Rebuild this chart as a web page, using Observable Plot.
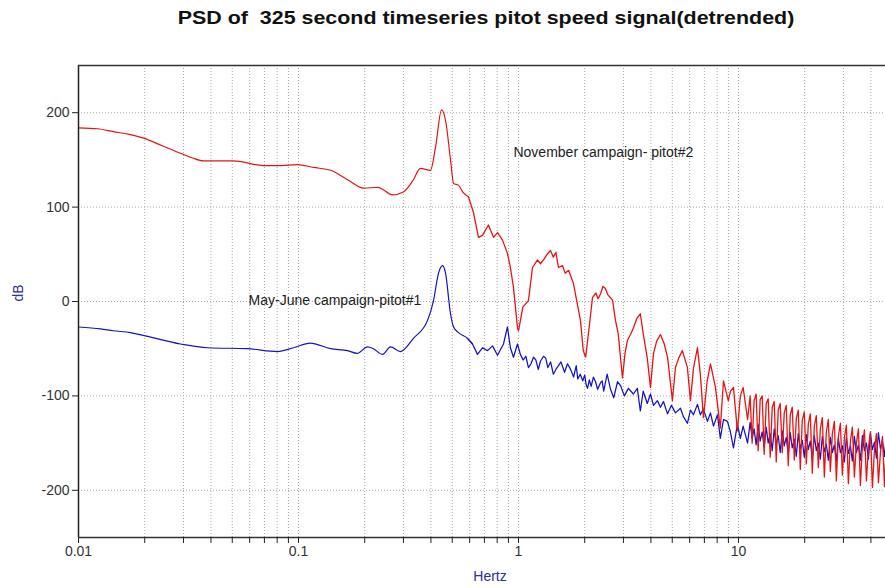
<!DOCTYPE html>
<html><head><meta charset="utf-8">
<script src="https://cdn.jsdelivr.net/npm/d3@7"></script>
<script src="https://cdn.jsdelivr.net/npm/@observablehq/plot@0.6"></script>
<style>
body{margin:0;background:#fff;font-family:"Liberation Sans",Arial,sans-serif;}
#wrap{position:relative;width:885px;height:588px;overflow:hidden;}
#title{position:absolute;top:8px;left:0;width:972px;text-align:center;font-weight:bold;font-size:18px;color:#111;white-space:pre;z-index:2;transform:scaleX(1.19);transform-origin:486px 0;}
#chart{position:absolute;top:0;left:0;}
</style></head>
<body><div id="wrap"><div id="title">PSD of  325 second timeseries pitot speed signal(detrended)</div><div id="chart"></div></div>
<script>
// November campaign (pitot #2): [Hz, dB]
const redSeries = [
[0.01,184],[0.0122,183],[0.0144,180],[0.017,177],[0.0198,173],[0.024,165],[0.0291,157],[0.033,152],[0.037,149],[0.0506,149],[0.0693,144],[0.0828,144],[0.099,145],[0.117,142],[0.14,139],[0.167,129],[0.198,120],[0.229,121],[0.268,113],[0.300,116],[0.333,129],[0.358,141],[0.398,139],[0.42,164],[0.447,203],[0.466,192],[0.491,150],[0.507,125],[0.534,123],[0.562,115],[0.592,111],[0.625,94],[0.658,68],[0.686,70],[0.730,81],[0.770,68],[0.803,73],[0.846,65],[0.891,51],[0.919,36],[0.949,15],[0.99,-28],[1.0,-31],[1.047,-6],[1.11,1],[1.158,36],[1.22,44],[1.26,40],[1.299,44],[1.35,50],[1.398,54],[1.44,47],[1.48,52],[1.52,36],[1.585,38],[1.63,30],[1.69,33],[1.778,19],[1.913,-20],[1.97,-52],[2.02,-59],[2.08,-34],[2.17,4],[2.25,9],[2.30,3],[2.36,8],[2.42,16],[2.48,14],[2.55,7],[2.62,4],[2.68,1],[2.76,-20],[2.84,-34],[2.97,-81],[3.05,-55],[3.13,-41],[3.23,-35],[3.33,-28],[3.45,-18],[3.58,-13],[3.69,-34],[3.85,-60],[3.98,-91],[4.11,-55],[4.25,-42],[4.42,-35],[4.6,-45],[4.76,-59],[5.01,-105],[5.17,-70],[5.35,-60],[5.56,-52],[5.86,-70],[6.05,-105],[6.25,-70],[6.51,-49],[6.71,-77],[6.93,-123],[7.2,-85],[7.46,-66],[7.86,-91],[8.27,-134],[8.55,-84],[8.99,-105],[9.2,-95],[9.49,-91],[9.89,-137],[10.2,-100],[10.5,-91],[11.0,-125],
[11.30,-100],[11.54,-150],[11.78,-105],[12.03,-98],[12.29,-158],[12.55,-104],[12.82,-100],[13.09,-162],[13.37,-108],[13.65,-103],[13.94,-165],[14.24,-112],[14.54,-106],[14.85,-170],[15.16,-115],[15.48,-108],[15.81,-160],[16.15,-118],[16.49,-110],[16.84,-174],[17.20,-120],[17.56,-112],[17.94,-168],[18.32,-124],[18.70,-115],[19.10,-178],[19.50,-126],[19.92,-117],[20.34,-172],[20.77,-130],[21.21,-119],[21.66,-182],[22.12,-132],[22.59,-121],[23.07,-176],[23.56,-135],[24.06,-123],[24.57,-186],[25.09,-138],[25.62,-125],[26.16,-180],[26.72,-140],[27.28,-127],[27.86,-190],[28.45,-143],[29.06,-129],[29.67,-184],[30.30,-145],[30.94,-131],[31.60,-193],[32.27,-148],[32.95,-133],[33.65,-186],[34.37,-150],[35.09,-135],[35.84,-195],[36.60,-152],[37.37,-136],[38.17,-190],[38.97,-155],[39.80,-138],[40.64,-197],[41.51,-157],[42.39,-140],[43.28,-192],[44.20,-160],[45.14,-143],[46.10,-196],[47.07,-146]
];
// May-June campaign (pitot #1): [Hz, dB]
const blueSeries = [
[0.01,-27],[0.0126,-29],[0.0144,-31],[0.0172,-33],[0.0206,-37],[0.0291,-45],[0.0386,-49],[0.0586,-50],[0.0803,-53],[0.0949,-49],[0.113,-44],[0.14,-50],[0.167,-52],[0.185,-55],[0.206,-48],[0.219,-50],[0.241,-56],[0.262,-48],[0.291,-53],[0.333,-39],[0.386,-20],[0.411,1],[0.433,30],[0.452,38],[0.466,30],[0.491,-13],[0.507,-27],[0.534,-33],[0.586,-39],[0.618,-45],[0.651,-56],[0.686,-49],[0.723,-52],[0.762,-47],[0.803,-57],[0.855,-45],[0.891,-27],[0.919,-49],[0.949,-59],[0.99,-45],[1.02,-56],[1.05,-62],[1.08,-58],[1.11,-70],[1.14,-66],[1.17,-59],[1.20,-62],[1.23,-72],[1.26,-63],[1.30,-58],[1.33,-60],[1.36,-70],[1.40,-64],[1.44,-77],[1.48,-72],[1.52,-68],[1.56,-64],[1.62,-75],[1.67,-66],[1.70,-69],[1.74,-74],[1.78,-80],[1.83,-68],[1.86,-82],[1.91,-77],[1.96,-84],[2.0,-78],[2.03,-88],[2.06,-92],[2.10,-83],[2.14,-90],[2.19,-80],[2.24,-85],[2.29,-93],[2.36,-86],[2.40,-84],[2.44,-95],[2.53,-77],[2.62,-93],[2.71,-102],[2.82,-85],[2.91,-89],[3.03,-100],[3.16,-92],[3.33,-98],[3.47,-92],[3.58,-116],[3.69,-95],[3.85,-108],[3.98,-98],[4.11,-110],[4.28,-105],[4.42,-112],[4.56,-106],[4.76,-119],[4.96,-110],[5.17,-118],[5.45,-113],[5.62,-122],[5.86,-129],[6.05,-115],[6.24,-120],[6.51,-109],[6.71,-120],[6.93,-114],[7.23,-127],[7.46,-118],[7.70,-132],[8.03,-120],[8.27,-145],[8.55,-125],[8.91,-127],[9.19,-138],[9.49,-155],[9.89,-130],[10.2,-145],[10.5,-132],[11.0,-150],
[11.30,-128],[11.54,-145],[11.78,-135],[12.03,-152],[12.29,-130],[12.55,-148],[12.82,-138],[13.09,-155],[13.37,-133],[13.65,-150],[13.94,-140],[14.24,-158],[14.54,-135],[14.85,-152],[15.16,-142],[15.48,-160],[15.81,-137],[16.15,-153],[16.49,-144],[16.84,-162],[17.20,-139],[17.56,-155],[17.94,-146],[18.32,-164],[18.70,-140],[19.10,-156],[19.50,-147],[19.92,-165],[20.34,-141],[20.77,-157],[21.21,-148],[21.66,-166],[22.12,-142],[22.59,-158],[23.07,-150],[23.56,-167],[24.06,-143],[24.57,-159],[25.09,-151],[25.62,-168],[26.16,-144],[26.72,-160],[27.28,-152],[27.86,-169],[28.45,-145],[29.06,-160],[29.67,-153],[30.30,-170],[30.94,-144],[31.60,-161],[32.27,-153],[32.95,-169],[33.65,-143],[34.37,-160],[35.09,-152],[35.84,-168],[36.60,-142],[37.37,-158],[38.17,-150],[38.97,-167],[39.80,-140],[40.64,-157],[41.51,-149],[42.39,-166],[43.28,-139],[44.20,-156],[45.14,-148],[46.10,-164],[47.07,-141]
];
const xTicks = [0.01,0.02,0.03,0.04,0.05,0.06,0.07,0.08,0.09,0.1,0.2,0.3,0.4,0.5,0.6,0.7,0.8,0.9,1,2,3,4,5,6,7,8,9,10,20,30,40];
const xLabels = [0.01,0.1,1,10];
const yTicks = [-200,-100,0,100,200];
const notes = [
  {hz: 0.949, db: 158, label: "November campaign- pitot#2"},
  {hz: 0.0593, db: 1, label: "May-June campaign-pitot#1"}
];
const axisBlue = "#2e2e9e";
const smoothBelow = 0.6; // smooth low-frequency part, jagged (linear) above

const px = d => d[0], py = d => d[1];
const chart = Plot.plot({
  width: 885, height: 588,
  marginLeft: 78, marginRight: 0, marginTop: 65, marginBottom: 51,
  style: {fontFamily: "Liberation Sans, Arial, sans-serif", fontSize: "14px", color: "#333", background: "#fff"},
  x: {type: "log", domain: [0.01, 46.6]},
  y: {domain: [-250, 250]},
  marks: [
    Plot.gridX(xTicks.filter(d => d > 0.01), {stroke: "#a8a8a8", strokeOpacity: 1, strokeDasharray: "1,2"}),
    Plot.gridY(yTicks, {stroke: "#a8a8a8", strokeOpacity: 1, strokeDasharray: "1,2"}),
    Plot.line(blueSeries.filter(d => d[0] <= 0.62), {x: px, y: py, stroke: "#1414c0", strokeWidth: 1.2, curve: "monotone-x", clip: true}),
    Plot.line(blueSeries.filter(d => d[0] >= 0.58), {x: px, y: py, stroke: "#1414c0", strokeWidth: 1.25, clip: true}),
    Plot.line(redSeries.filter(d => d[0] <= 0.6), {x: px, y: py, stroke: "#e41414", strokeWidth: 1.2, curve: "monotone-x", clip: true}),
    Plot.line(redSeries.filter(d => d[0] >= 0.59), {x: px, y: py, stroke: "#e81414", strokeWidth: 1.3, clip: true}),
    Plot.text(notes, {x: "hz", y: "db", text: "label", textAnchor: "start", fill: "#222", fontSize: 14, ariaLabel: "notes"}),
    Plot.ruleX([0.01], {stroke: "#222", strokeWidth: 1.5}),
    Plot.ruleY([-250, 250], {stroke: "#333", strokeWidth: 1.5}),
    Plot.axisX({ticks: xTicks, tickFormat: d => xLabels.includes(d) ? String(d) : "", tickSize: 6, label: null, stroke: "#222", fontSize: 14}),
    Plot.axisY({ticks: yTicks, tickFormat: d => String(d), tickSize: 6, label: null, stroke: "#222", fontSize: 14}),
    Plot.text(["Hertz"], {text: d => d, frameAnchor: "bottom", dx: 8, dy: 43, fill: axisBlue, fontSize: 14}),
    Plot.text(["dB"], {text: d => d, frameAnchor: "left", dx: -60, rotate: -90, fill: axisBlue, fontSize: 14})
  ]
});
const notesG = chart.querySelector('g[aria-label="notes"]');
if (notesG) notesG.style.letterSpacing = "0.9px";
document.getElementById("chart").appendChild(chart);
</script>
</body></html>
